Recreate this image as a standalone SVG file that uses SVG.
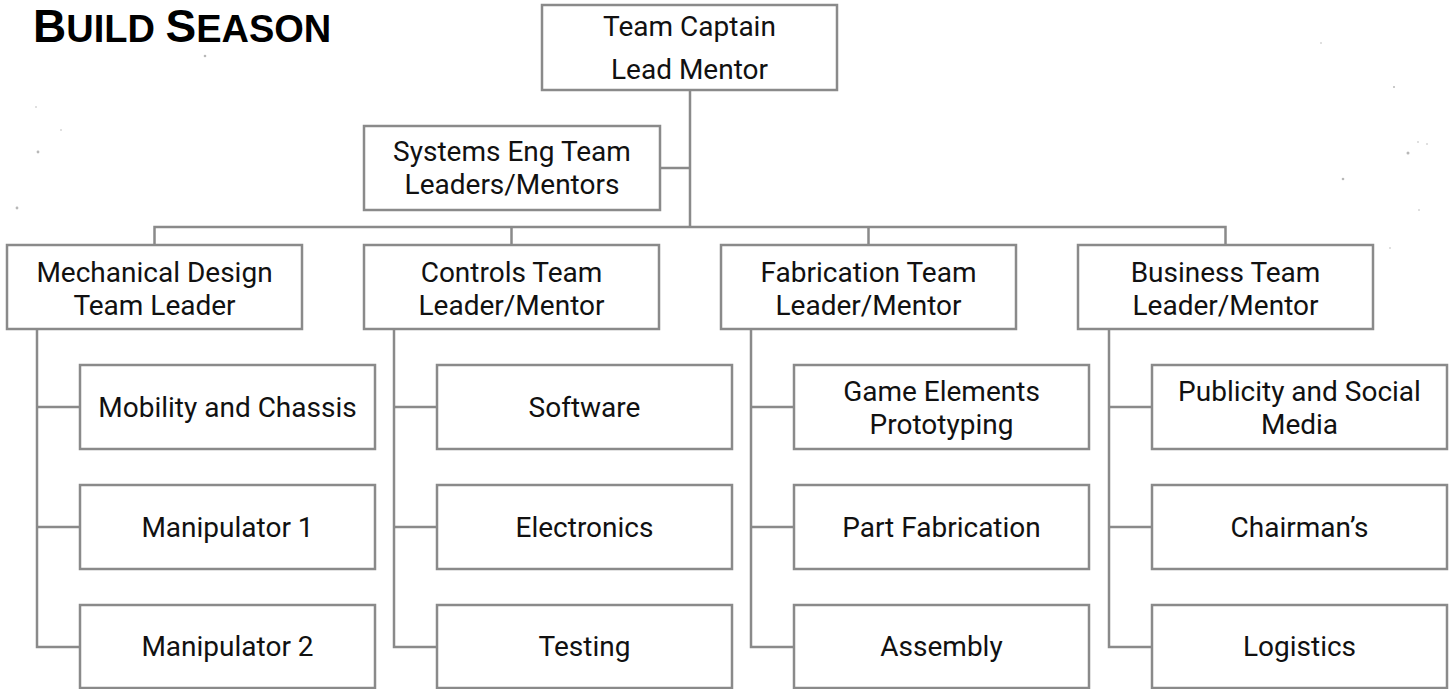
<svg xmlns="http://www.w3.org/2000/svg" width="1453" height="689" viewBox="0 0 1453 689">
<style>
.box{fill:#fff;stroke:#8a8a8a;stroke-width:2.5}
.t{font-family:Roboto,"Liberation Sans",sans-serif;font-size:28px;fill:#111;text-anchor:middle}
.c{fill:none;stroke:#8a8a8a;stroke-width:2.5}
.dot{fill:#b8b8b8}
.title{font-family:"Liberation Sans",Arial,sans-serif;font-weight:bold;fill:#000}
</style>
<rect width="1453" height="689" fill="#fff"/>
<g id="stars">
<circle class="dot" cx="205" cy="56" r="1.3"/>
<circle class="dot" cx="36" cy="107" r="0.8"/>
<circle class="dot" cx="61" cy="130" r="0.8"/>
<circle class="dot" cx="38" cy="152" r="1.4"/>
<circle class="dot" cx="17" cy="208" r="1.4"/>
<circle class="dot" cx="1321" cy="43" r="0.8"/>
<circle class="dot" cx="1394" cy="87" r="1"/>
<circle class="dot" cx="1418" cy="142" r="0.8"/>
<circle class="dot" cx="1427" cy="144" r="0.8"/>
<circle class="dot" cx="1408" cy="153" r="1.5"/>
<circle class="dot" cx="1343" cy="179" r="1.3"/>
<circle class="dot" cx="1419" cy="210" r="0.8"/>
<circle class="dot" cx="1390" cy="248" r="0.8"/>
</g>
<text class="title" x="33" y="42"><tspan font-size="46">B</tspan><tspan font-size="38">UILD </tspan><tspan font-size="46">S</tspan><tspan font-size="38">EASON</tspan></text>
<g id="connectors">
<path class="c" d="M690 90V227M660 168H690M154.5 245V227H1225.5V245M511.5 227V245M868.5 227V245"/>
<path class="c" d="M37 329V647H80M37 407H80M37 527H80"/>
<path class="c" d="M394 329V647H437M394 407H437M394 527H437"/>
<path class="c" d="M751 329V647H794M751 407H794M751 527H794"/>
<path class="c" d="M1109 329V647H1152M1109 407H1152M1109 527H1152"/>
</g>
<g id="captain"><rect class="box" x="542" y="5" width="295" height="85"/><text class="t" x="689.5" y="36">Team Captain</text><text class="t" x="689.5" y="79">Lead Mentor</text></g>
<g id="systems"><rect class="box" x="364" y="126" width="296" height="84"/><text class="t" x="512" y="161">Systems Eng Team</text><text class="t" x="512" y="194">Leaders/Mentors</text></g>
<g id="mech"><rect class="box" x="7" y="245" width="295" height="84"/><text class="t" x="154.5" y="282">Mechanical Design</text><text class="t" x="154.5" y="315">Team Leader</text></g>
<g id="controls"><rect class="box" x="364" y="245" width="295" height="84"/><text class="t" x="511.5" y="282">Controls Team</text><text class="t" x="511.5" y="315">Leader/Mentor</text></g>
<g id="fab"><rect class="box" x="721" y="245" width="295" height="84"/><text class="t" x="868.5" y="282">Fabrication Team</text><text class="t" x="868.5" y="315">Leader/Mentor</text></g>
<g id="business"><rect class="box" x="1078" y="245" width="295" height="84"/><text class="t" x="1225.5" y="282">Business Team</text><text class="t" x="1225.5" y="315">Leader/Mentor</text></g>
<g id="mobility"><rect class="box" x="80" y="365" width="295" height="84"/><text class="t" x="227.5" y="417">Mobility and Chassis</text></g>
<g id="manip1"><rect class="box" x="80" y="485" width="295" height="84"/><text class="t" x="227.5" y="537">Manipulator 1</text></g>
<g id="manip2"><rect class="box" x="80" y="605" width="295" height="83"/><text class="t" x="227.5" y="656">Manipulator 2</text></g>
<g id="software"><rect class="box" x="437" y="365" width="295" height="84"/><text class="t" x="584.5" y="417">Software</text></g>
<g id="electronics"><rect class="box" x="437" y="485" width="295" height="84"/><text class="t" x="584.5" y="537">Electronics</text></g>
<g id="testing"><rect class="box" x="437" y="605" width="295" height="83"/><text class="t" x="584.5" y="656">Testing</text></g>
<g id="game"><rect class="box" x="794" y="365" width="295" height="84"/><text class="t" x="941.5" y="401">Game Elements</text><text class="t" x="941.5" y="434">Prototyping</text></g>
<g id="partfab"><rect class="box" x="794" y="485" width="295" height="84"/><text class="t" x="941.5" y="537">Part Fabrication</text></g>
<g id="assembly"><rect class="box" x="794" y="605" width="295" height="83"/><text class="t" x="941.5" y="656">Assembly</text></g>
<g id="publicity"><rect class="box" x="1152" y="365" width="295" height="84"/><text class="t" x="1299.5" y="401">Publicity and Social</text><text class="t" x="1299.5" y="434">Media</text></g>
<g id="chairman"><rect class="box" x="1152" y="485" width="295" height="84"/><text class="t" x="1299.5" y="537">Chairman’s</text></g>
<g id="logistics"><rect class="box" x="1152" y="605" width="295" height="83"/><text class="t" x="1299.5" y="656">Logistics</text></g>
</svg>
